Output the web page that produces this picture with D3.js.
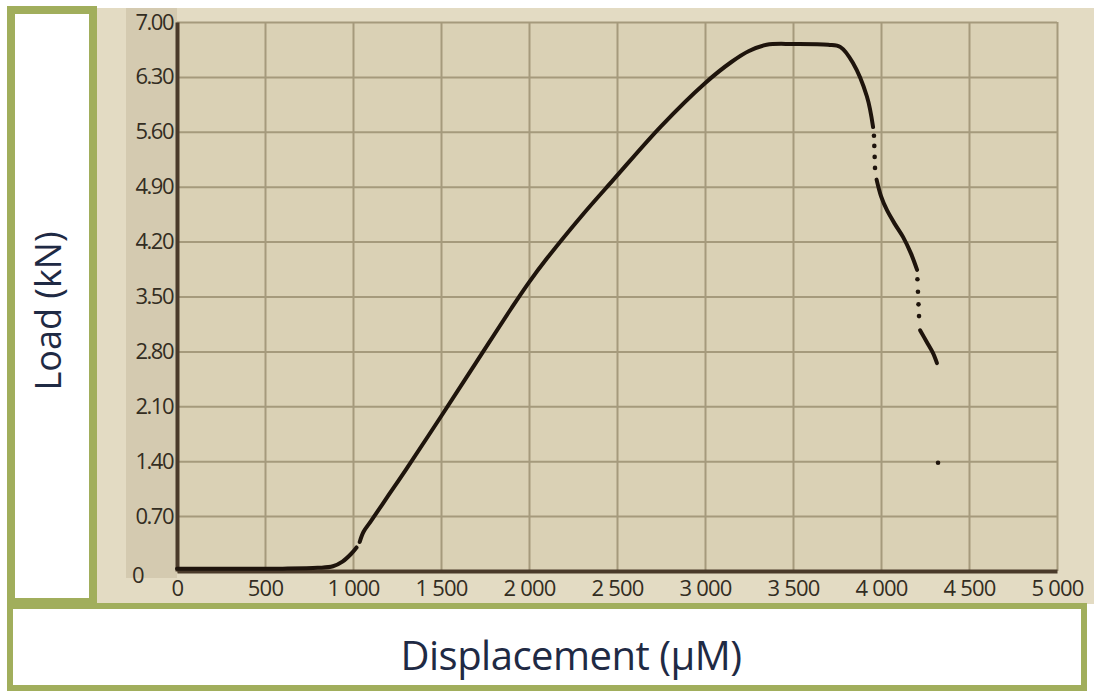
<!DOCTYPE html>
<html>
<head>
<meta charset="utf-8">
<script src="https://cdn.jsdelivr.net/npm/d3@7"></script>
<style>
  body { margin:0; background:#fff; }
  svg { display:block; }
  .axis .tick text { font-family:"Open Sans", sans-serif; font-size:22px; fill:#332d22; }
</style>
</head>
<body>
<div id="gt"></div>
<script>
// values (displacement in µM, load in kN)
var rise_a = [[0,0.03],[300,0.03],[600,0.03],[800,0.04],[886,0.06],[940,0.12],[990,0.22],[1020,0.3]];
var rise_b = [[1038,0.37],[1060,0.5],[1100,0.63],[1200,0.96],[1300,1.29],[1500,1.97],[1700,2.66],
              [1900,3.35],[2000,3.68],[2100,3.98],[2300,4.53],[2480,4.99],[2750,5.67],[3000,6.22],[3150,6.49],
              [3250,6.63],[3350,6.71],[3500,6.72],[3700,6.71],[3770,6.68],[3840,6.48],[3920,6.05],[3955,5.66]];
var gap_a = [[3960,5.55],[3962,5.42],[3964,5.28],[3966,5.14]];
var drop_a = [[3975,4.99],[4000,4.78],[4034,4.6],[4080,4.42],[4125,4.26],[4170,4.05],[4205,3.84]];
var gap_b = [[4207,3.72],[4210,3.56],[4213,3.4],[4216,3.25]];
var drop_b = [[4222,3.07],[4260,2.92],[4295,2.78],[4318,2.65]];
var lone = [[4324,1.38]];

var x_ticks = [0,500,1000,1500,2000,2500,3000,3500,4000,4500,5000];
var y_ticks = [0,0.7,1.4,2.1,2.8,3.5,4.2,4.9,5.6,6.3,7.0];

var W = 1094, H = 693;
var margin = {t:22,l:177,b:122,r:37};
var width = W-margin.l-margin.r,
    height = H-margin.t-margin.b;

var svg = d3.select("#gt")
    .append('svg')
    .attr('width',W)
    .attr('height',H);

var olive = "#a1ae5c";

// photo background + frames
svg.append('rect').attr('x',97).attr('y',8).attr('width',W-97).attr('height',596).attr('fill','#e3dbc3');
svg.append('rect').attr('x',126).attr('y',8).attr('width',51).attr('height',570).attr('fill','#d4cab0');
svg.append('rect').attr('x',11).attr('y',10).attr('width',82).attr('height',592)
    .attr('fill','#fff').attr('stroke',olive).attr('stroke-width',8);
svg.append('rect').attr('x',10).attr('y',606).attr('width',W-20).attr('height',82)
    .attr('fill','#fff').attr('stroke',olive).attr('stroke-width',6);

var x = d3.scaleLinear().domain([0,5000]).range([0,width]);
var y = d3.scaleLinear().domain([0,7]).range([height,0]);

var g = svg.append("g")
    .attr("transform","translate("+margin.l+","+margin.t+")");

g.append('rect').attr('width',width).attr('height',height).attr('fill','#dad1b5');

// grid
g.append("g")
    .attr("class","grid")
    .attr("transform","translate(0,"+height+")")
    .call(d3.axisBottom(x).tickValues(x_ticks).tickSize(-height).tickFormat(""))
    .call(function(s){ s.select(".domain").remove(); });
g.append("g")
    .attr("class","grid")
    .call(d3.axisLeft(y).tickValues(y_ticks).tickSize(-width).tickFormat(""))
    .call(function(s){ s.select(".domain").remove(); });
g.selectAll(".grid line").attr("stroke","#a59a7c").attr("stroke-width",2);

// axes
var fmt_x = function(d){ return d3.format(",")(d).replace(",", " "); };
var fmt_y = function(d){ return d==0 ? "0" : d3.format(".2f")(d); };

g.append("g")
    .attr("class","axis axis--x")
    .attr("transform","translate(0,"+height+")")
    .call(d3.axisBottom(x).tickValues(x_ticks).tickSize(0).tickPadding(9).tickFormat(fmt_x))
    .call(function(s){ s.select(".domain").attr("stroke","#4a3a2a").attr("stroke-width",4); });

g.append("g")
    .attr("class","axis axis--y")
    .call(d3.axisLeft(y).tickValues(y_ticks).tickSize(0).tickPadding(4).tickFormat(fmt_y))
    .call(function(s){ s.select(".domain").attr("stroke","#4a3a2a").attr("stroke-width",4); });

g.select(".axis--y").selectAll(".tick text").attr("letter-spacing","-1.5px");
g.select(".axis--y").selectAll(".tick").filter(function(d){ return d==0; })
    .select("text").attr("dx","-30").attr("dy","0.5em");
g.select(".axis--x").selectAll(".tick text").attr("letter-spacing","-0.8px");

// curve
var d3line = d3.line()
    .x(function(d){ return x(d[0]); })
    .y(function(d){ return y(d[1]); })
    .curve(d3.curveCatmullRom.alpha(0.5));

[rise_a, rise_b, drop_a, drop_b].forEach(function(seg){
    g.append('path')
        .attr('d',d3line(seg))
        .attr('stroke','#1e140c')
        .attr('stroke-width',4)
        .attr('stroke-linecap','round')
        .attr('fill','none');
});

g.selectAll(".data_dot")
    .data(gap_a.concat(gap_b, lone))
    .enter()
    .append("circle")
    .attr("class","data_dot")
    .attr("r",2.3)
    .attr("cx",function(d){ return x(d[0]); })
    .attr("cy",function(d){ return y(d[1]); })
    .attr("fill","#1e140c");

// titles
svg.append("text")
    .attr("transform","translate(61,311) rotate(-90)")
    .attr("text-anchor","middle")
    .style("font-family","'Open Sans', sans-serif")
    .style("font-size","36px")
    .attr("fill","#1f2a44")
    .text("Load (kN)");

svg.append("text")
    .attr("x",571)
    .attr("y",670)
    .attr("text-anchor","middle")
    .style("font-family","'Open Sans', sans-serif")
    .style("font-size","40px")
    .attr("letter-spacing","-0.5px")
    .attr("fill","#1f2a44")
    .text("Displacement (µM)");
</script>
</body>
</html>
